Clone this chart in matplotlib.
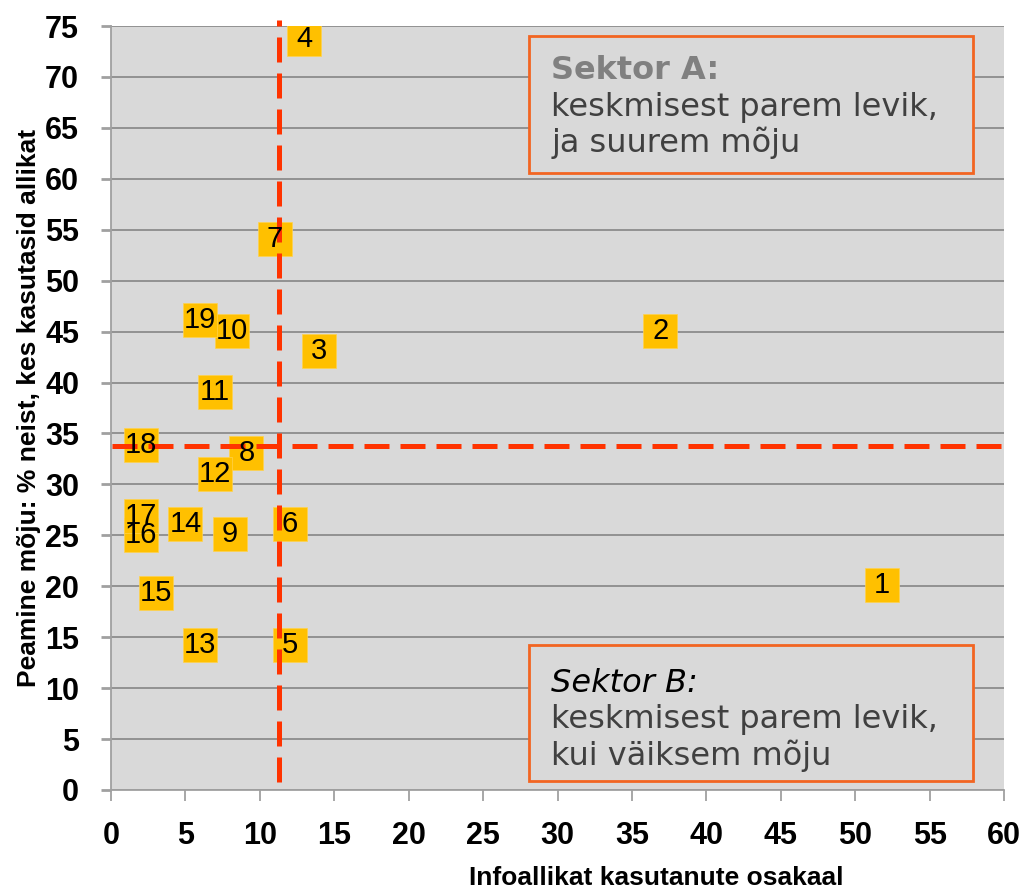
import matplotlib
matplotlib.use("Agg")
import matplotlib.pyplot as plt
from matplotlib.patches import Rectangle

# data
labels = ["1", "2", "3", "4", "5", "6", "7", "8", "9", "10",
          "11", "12", "13", "14", "15", "16", "17", "18", "19"]
x_share = [51.8, 36.9, 14.0, 13.0, 12.0, 12.0, 11.0, 9.1, 8.0, 8.1,
           7.0, 7.0, 6.0, 5.0, 3.0, 2.0, 2.0, 2.0, 6.0]
y_impact = [20.1, 45.1, 43.1, 73.7, 14.2, 26.1, 54.1, 33.1, 25.1, 45.1,
            39.1, 31.0, 14.2, 26.1, 19.3, 25.0, 26.9, 33.9, 46.1]
avg_x = 11.3
avg_y = 33.8

xticks = list(range(0, 61, 5))
yticks = list(range(0, 76, 5))

fig = plt.figure(figsize=(10.24, 8.91), dpi=100)
ax = fig.add_axes([0.1084, 0.1134, 0.8721, 0.8574])
ax.set_facecolor("#D9D9D9")
ax.set_xlim(0, 60)
ax.set_ylim(0, 75)

ax.set_yticks(yticks)
ax.set_xticks(xticks)
ax.yaxis.grid(True, color="#8C8C8C", linewidth=1.3)
ax.set_axisbelow(True)
for s in ["top", "right"]:
    ax.spines[s].set_visible(False)
for s in ["left", "bottom"]:
    ax.spines[s].set_color("#A0A0A0")
    ax.spines[s].set_linewidth(1.3)

tick_font = dict(family="Liberation Sans", weight="bold", size=22)
ax.set_xticklabels([str(t) for t in xticks], **tick_font)
ax.set_yticklabels([str(t) for t in yticks], **tick_font)
ax.tick_params(axis="x", length=8, width=1.3, color="#A0A0A0", pad=14)
ax.tick_params(axis="y", length=7, width=2, color="#A0A0A0", pad=16)

ax.set_xlabel("Infoallikat kasutanute osakaal", family="Liberation Sans",
              weight="bold", size=19)
ax.xaxis.set_label_coords(0.61, -0.1)
ax.set_ylabel("Peamine mõju: % neist, kes kasutasid allikat", family="Liberation Sans",
              weight="bold", size=19)
ax.yaxis.set_label_coords(-0.078, 0.5)

# markers with labels
ax.plot(x_share, y_impact, linestyle="none", marker="s", markersize=25,
        color="#FFC000", markeredgecolor="#FFD24D", markeredgewidth=0.5, zorder=3)
for lab, xv, yv in zip(labels, x_share, y_impact):
    ax.text(xv, yv, lab, ha="center", va="center", family="Liberation Sans",
            size=21, color="black", zorder=5)

# average lines
ax.plot([avg_x, avg_x], [0.8, 75.6], color="#FF3300", linewidth=3.6,
        dashes=(5, 2.2), zorder=4, clip_on=False)
ax.plot([0.1, 60], [avg_y, avg_y], color="#FF3300", linewidth=3.6,
        dashes=(5, 2.2), zorder=4, clip_on=False)

# sector boxes
box_kw = dict(transform=ax.transAxes, facecolor="#D9D9D9",
              edgecolor="#F26522", linewidth=2, zorder=6)
ax.add_patch(Rectangle((0.468, 0.808), 0.497, 0.179, **box_kw))
ax.add_patch(Rectangle((0.468, 0.012), 0.497, 0.178, **box_kw))

txt = dict(transform=ax.transAxes, family="DejaVu Sans", size=23,
           ha="left", va="center", zorder=7)
ax.text(0.493, 0.942, "Sektor A:", color="#808080", weight="bold", **txt)
ax.text(0.493, 0.893, "keskmisest parem levik,", color="#404040", **txt)
ax.text(0.493, 0.847, "ja suurem mõju", color="#404040", **txt)

ax.text(0.493, 0.139, "Sektor B:", color="black", style="italic", **txt)
ax.text(0.493, 0.092, "keskmisest parem levik,", color="#404040", **txt)
ax.text(0.493, 0.045, "kui väiksem mõju", color="#404040", **txt)

fig.savefig("out.png", dpi=100)
